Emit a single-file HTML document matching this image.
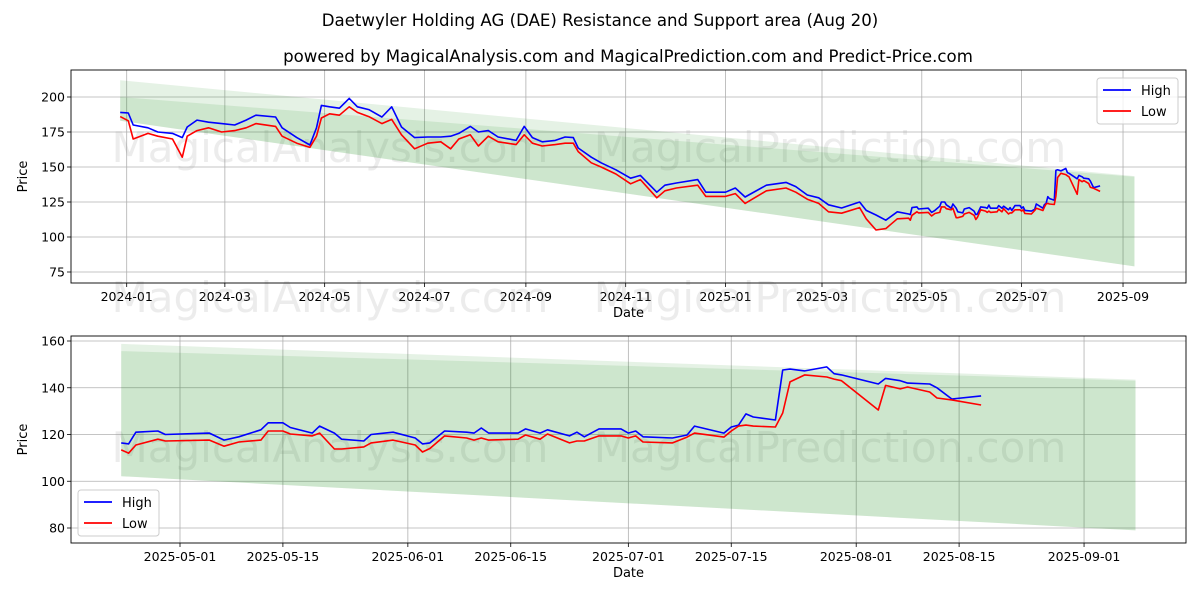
<!DOCTYPE html>
<html><head><meta charset="utf-8"><style>
body{margin:0;background:#fff;font-family:"Liberation Sans","DejaVu Sans",sans-serif}
svg text{font-family:"DejaVu Sans","Liberation Sans",sans-serif}
</style></head><body>
<svg id="chart" width="1200" height="600" xmlns="http://www.w3.org/2000/svg"></svg>
<script>
const dates=["2023-12-28","2024-01-02","2024-01-05","2024-01-14","2024-01-20","2024-01-29","2024-02-04","2024-02-07","2024-02-13","2024-02-20","2024-02-28","2024-03-07","2024-03-14","2024-03-20","2024-04-01","2024-04-05","2024-04-14","2024-04-22","2024-04-26","2024-04-29","2024-05-04","2024-05-10","2024-05-16","2024-05-21","2024-05-28","2024-06-05","2024-06-11","2024-06-17","2024-06-25","2024-07-03","2024-07-11","2024-07-17","2024-07-22","2024-07-29","2024-08-03","2024-08-09","2024-08-15","2024-08-26","2024-08-31","2024-09-05","2024-09-11","2024-09-19","2024-09-25","2024-09-30","2024-10-03","2024-10-11","2024-10-17","2024-10-26","2024-11-04","2024-11-10","2024-11-20","2024-11-25","2024-12-02","2024-12-15","2024-12-20","2025-01-01","2025-01-07","2025-01-13","2025-01-26","2025-02-07","2025-02-13","2025-02-20","2025-02-27","2025-03-05","2025-03-13","2025-03-24","2025-03-28","2025-04-03","2025-04-09","2025-04-16",
"2025-04-23","2025-04-24","2025-04-25","2025-04-28","2025-04-29","2025-05-05","2025-05-07","2025-05-09","2025-05-12","2025-05-13","2025-05-15","2025-05-16","2025-05-19","2025-05-20","2025-05-22","2025-05-23","2025-05-26","2025-05-27","2025-05-30","2025-06-02","2025-06-03","2025-06-04","2025-06-06","2025-06-09","2025-06-10","2025-06-11","2025-06-12","2025-06-16","2025-06-17","2025-06-19","2025-06-20","2025-06-23","2025-06-24","2025-06-25","2025-06-27","2025-06-30","2025-07-01","2025-07-02","2025-07-03","2025-07-07","2025-07-09","2025-07-10","2025-07-14","2025-07-15","2025-07-16","2025-07-17","2025-07-18","2025-07-21","2025-07-22","2025-07-23","2025-07-25","2025-07-28","2025-07-29","2025-07-30","2025-08-04","2025-08-05","2025-08-07","2025-08-08","2025-08-11","2025-08-12","2025-08-14","2025-08-18"];
const highs=[189,188.6,180,178,175,174,171,178.6,183.5,182,181,180,183.5,187,185.7,178,171,165.7,178,194,193,192,199,193,191,185.7,193,178.6,171,171.4,171.4,172,174,179,175,176,171.4,169,179,171,168,169,171.4,171,163.6,157,153,148,142,144,132,137,138.6,141,132,132,135,128.6,137,139,136,130,128,123,120.7,125,119,115.7,112,118,
116.4,116,121,121.5,120,120.6,117.6,119,122,125,125,123,120.6,123.6,120.6,118,117.2,120,121,118.5,116,116.4,121.5,121,120.6,122.8,120.6,120.6,122.4,120.6,122,119.4,121,119,122.4,122.4,120.6,121.5,119,118.5,119.8,123.6,120.6,123.2,124,128.8,127.5,126.2,147.6,148,147.2,148.9,146,145.5,141.6,144,143,142,141.6,140,135.2,136.5];
const lows=[186,183,170,174,172,170,157,172,176,178,175,176,178,181,179,172,167,164,172,185,188,187,193,189,186,181,184,173,163,167,168,163,170,173,165,172,168,166,173,167,165,166,167,167,161,153,150,145,138,141,128,133,135,137,129,129,131,124,133,135,132,127,124,118,117,121,113,105,106,113,
113.4,112,115.5,118,117.2,117.6,115,116.8,117.6,121.5,121.5,120.2,119.4,120.6,113.8,113.8,114.7,116.4,117.6,115.5,112.5,114,119.4,118.5,117.6,118.5,117.6,118,119.8,118,120.2,116.4,117.2,117.2,119.4,119.4,118.5,119.4,116.8,116.4,118.9,120.6,118.9,121.5,123.6,124,123.6,123.2,129.2,142.5,145.5,144.6,143.7,143,130.5,141,139.5,140.3,138.2,135.6,134.8,132.6];
const bandDates=["2023-12-28","2025-09-08"];
const bandOuterTop=[212,143.5];
const bandInnerTop=[200,143];
const bandBottom=[183,79];
const topTicksY=[75,100,125,150,175,200];
const topTicksX=["2024-01","2024-03","2024-05","2024-07","2024-09","2024-11","2025-01","2025-03","2025-05","2025-07","2025-09"];
const botTicksY=[80,100,120,140,160];
const botTicksX=["2025-05-01","2025-05-15","2025-06-01","2025-06-15","2025-07-01","2025-07-15","2025-08-01","2025-08-15","2025-09-01"];

const NS="http://www.w3.org/2000/svg";
const svg=document.getElementById('chart');
function mk(tag,attrs,parent){const e=document.createElementNS(NS,tag);for(const k in attrs)e.setAttribute(k,attrs[k]);(parent||svg).appendChild(e);return e;}
function day(s){if(s.length===7)s+="-01";return Date.UTC(+s.slice(0,4),+s.slice(5,7)-1,+s.slice(8,10))/864e5;}

function panel(p){
  const g=mk('g',{});
  
  
  const X=d=>p.x0+(day(d)-day(p.d0))*p.pxd;
  const Y=v=>p.y0+(p.v0-v)*p.pxv;
  p.ty.forEach(v=>{const l=mk('line',{x1:p.L,x2:p.R,y1:Y(v),y2:Y(v),stroke:'#b0b0b0','stroke-width':0.8},g);
    
    
    const t=mk('text',{x:p.L-6,y:Y(v)+4.5,'text-anchor':'end','font-size':12.5,fill:'#000'},g);t.textContent=v;
    
    
    mk('line',{x1:p.L-4,x2:p.L,y1:Y(v),y2:Y(v),stroke:'#000','stroke-width':0.8},g);});
  p.tx.forEach(d=>{const x=X(d);const l=mk('line',{x1:x,x2:x,y1:p.T,y2:p.B,stroke:'#b0b0b0','stroke-width':0.8},g);
    
    
    mk('line',{x1:x,x2:x,y1:p.B,y2:p.B+4,stroke:'#000','stroke-width':0.8},g);
    const t=mk('text',{x:x,y:p.B+18,'text-anchor':'middle','font-size':12.5,fill:'#000'},g);t.textContent=d;
    
    });
  p.wm.forEach(w=>{const t=mk('text',{x:w[0],y:w[1],'text-anchor':'middle','font-size':42,fill:'rgba(150,150,150,0.18)'},g);t.textContent=w[2];
    
    });
  const cp=mk('clipPath',{id:'cp'+p.name},g);mk('rect',{x:p.L,y:p.T,width:p.R-p.L,height:p.B-p.T},cp);
  const d0=day(bandDates[0]),d1=day(bandDates[1]);
  const ds=Math.max(d0,day(p.start));
  const f=(ds-d0)/(d1-d0);
  const lerp=a=>a[0]+(a[1]-a[0])*f;
  const xs=p.x0+(ds-day(p.d0))*p.pxd, xe=X(bandDates[1]);
  const b1=mk('polygon',{points:[[xs,Y(lerp(bandOuterTop))],[xe,Y(bandOuterTop[1])],[xe,Y(bandBottom[1])],[xs,Y(lerp(bandBottom))]].join(' '),fill:'rgba(0,128,0,0.1)','clip-path':'url(#cp'+p.name+')'},g);
  
  
  const b2=mk('polygon',{points:[[xs,Y(lerp(bandInnerTop))],[xe,Y(bandInnerTop[1])],[xe,Y(bandBottom[1])],[xs,Y(lerp(bandBottom))]].join(' '),fill:'rgba(0,128,0,0.1)','clip-path':'url(#cp'+p.name+')'},g);
  
  
  [[highs,'#0000ff','high-line'],[lows,'#ff0000','low-line']].forEach(s=>{
    let pts=[];dates.forEach((d,i)=>{if(day(d)>=day(p.start))pts.push(X(d).toFixed(1)+','+Y(s[0][i]).toFixed(1));});
    const l=mk('polyline',{points:pts.join(' '),fill:'none',stroke:s[1],'stroke-width':1.6,'stroke-linejoin':'round','clip-path':'url(#cp'+p.name+')'},g);
    
    });
  const fr=mk('rect',{x:p.L,y:p.T,width:p.R-p.L,height:p.B-p.T,fill:'none',stroke:'#000','stroke-width':0.9},g);
  
  
  const xl=mk('text',{x:(p.L+p.R)/2,y:p.B+34,'text-anchor':'middle','font-size':13},g);xl.textContent='Date';
  
  
  const yl=mk('text',{x:0,y:0,'text-anchor':'middle','font-size':13,transform:`translate(27,${(p.T+p.B)/2}) rotate(-90)`},g);yl.textContent='Price';
  
  
  const lg=mk('g',{},g);
  
  
  mk('rect',{x:p.lg[0],y:p.lg[1],width:81,height:46,rx:3,fill:'rgba(255,255,255,0.8)',stroke:'#ccc'},lg);
  [['High','#0000ff'],['Low','#ff0000']].forEach((e,i)=>{const yy=p.lg[1]+12+i*21;
    mk('line',{x1:p.lg[0]+6,x2:p.lg[0]+34,y1:yy,y2:yy,stroke:e[1],'stroke-width':1.8},lg);
    const t=mk('text',{x:p.lg[0]+44,y:yy+5,'font-size':13},lg);t.textContent=e[0];
    
    });
}
panel({name:'top-panel',L:71,R:1186,T:70,B:283,x0:126.7,d0:'2024-01-01',pxd:1.636,y0:97,v0:200,pxv:1.4,ty:topTicksY,tx:topTicksX,start:'2000-01-01',lg:[1097,78],
  wm:[[330,162,'MagicalAnalysis.com'],[830,162,'MagicalPrediction.com'],[330,312,'MagicalAnalysis.com'],[830,312,'MagicalPrediction.com']]});
panel({name:'bottom-panel',L:71,R:1186,T:336,B:543,x0:180,d0:'2025-05-01',pxd:7.35,y0:341,v0:160,pxv:2.3375,ty:botTicksY,tx:botTicksX,start:'2025-04-23',lg:[78,490],
  wm:[[330,462,'MagicalAnalysis.com'],[830,462,'MagicalPrediction.com']]});
const t1=mk('text',{x:600,y:26,'text-anchor':'middle','font-size':16.6});t1.textContent='Daetwyler Holding AG (DAE) Resistance and Support area (Aug 20)';


const t2=mk('text',{x:628,y:62,'text-anchor':'middle','font-size':16.6});t2.textContent='powered by MagicalAnalysis.com and MagicalPrediction.com and Predict-Price.com';


</script>
</body></html>
